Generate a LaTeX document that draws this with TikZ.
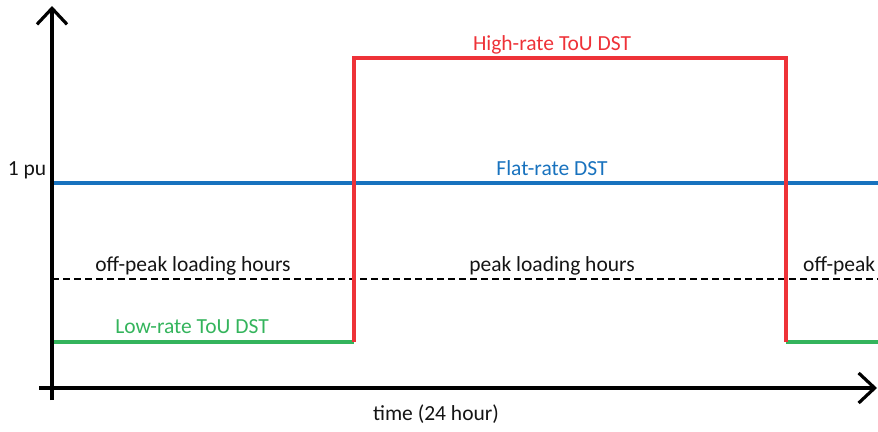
\documentclass[tikz,border=0pt]{standalone}
\usepackage{fontspec}
\setmainfont{Carlito}
\usetikzlibrary{arrows.meta}
\definecolor{rred}{RGB}{238,50,56}
\definecolor{rblue}{RGB}{24,114,190}
\definecolor{rgreen}{RGB}{52,180,92}
\definecolor{rtext}{RGB}{20,20,20}
\tikzset{
  axis/.style={line width=3.4pt, draw=black, -{Straight Barb[length=16pt,width=30pt,line width=3.2pt]}},
  lbl/.style={font=\fontsize{21.5}{24}\selectfont, inner sep=0pt, anchor=base},
  rateline/.style={line width=3.4pt},
}
\begin{document}
\begin{tikzpicture}[x=1pt,y=-1pt]
\useasboundingbox (0,0) rectangle (878,431);
% coordinates
\coordinate (yb) at (52,400);
\coordinate (yt) at (52,6);
\coordinate (xl) at (39,388);
\coordinate (xr) at (877,388);
\coordinate (g0) at (52,342);
\coordinate (r0) at (354,342);
\coordinate (r1) at (354,58);
\coordinate (r2) at (786,58);
\coordinate (r3) at (786,342);
\coordinate (g1) at (878,342);
\coordinate (b0) at (52,183);
\coordinate (b1) at (878,183);
\coordinate (d0) at (52,279);
\coordinate (d1) at (878,279);
% lines
\draw[rateline, draw=rblue] (b0) -- (b1);
\draw[line width=2.2pt, dash pattern=on 7pt off 4pt] (d0) -- (d1);
\draw[rateline, draw=rgreen] (g0) -- (r0);
\draw[rateline, draw=rgreen] (r3) -- (g1);
\draw[rateline, draw=rred] (r0) -- (r1) -- (r2) -- (r3);
\draw[axis] (yb) -- (yt);
\draw[axis] (xl) -- (xr);
% labels
\node[lbl, text=rred] (high) at (552,50) {High-rate ToU DST};
\node[lbl, text=rblue] (flat) at (552,175) {Flat-rate DST};
\node[lbl, text=rtext] (pu) at (27,175) {1 pu};
\node[lbl, text=rtext] (offpk) at (193,271) {off-peak loading hours};
\node[lbl, text=rtext] (pk) at (552,271) {peak loading hours};
\node[lbl, text=rtext, anchor=base west] (offpk2) at (803,271) {off-peak};
\node[lbl, text=rgreen] (low) at (192,333) {Low-rate ToU DST};
\node[lbl, text=rtext] (time) at (436,420) {time (24 hour)};
\end{tikzpicture}
\end{document}
